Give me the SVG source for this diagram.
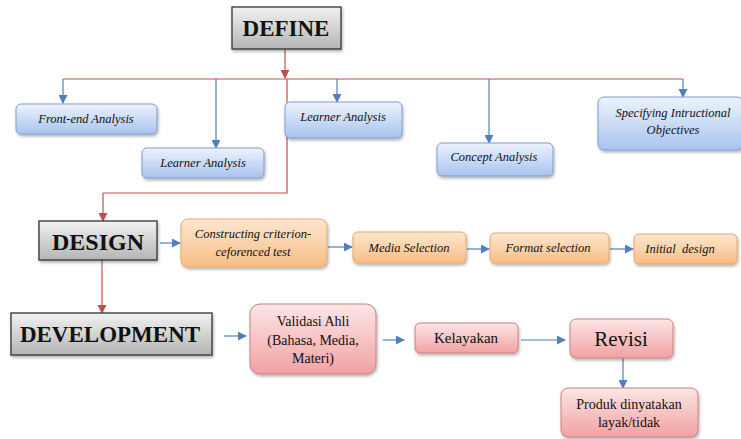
<svg xmlns="http://www.w3.org/2000/svg" width="741" height="439" viewBox="0 0 741 439">
<defs>
<linearGradient id="gBlue" x1="0" y1="0" x2="0" y2="1"><stop offset="0" stop-color="#eef3fd"/><stop offset="1" stop-color="#a8c3ee"/></linearGradient>
<linearGradient id="gOrange" x1="0" y1="0" x2="0" y2="1"><stop offset="0" stop-color="#fde7d0"/><stop offset="1" stop-color="#f8bd84"/></linearGradient>
<linearGradient id="gPink" x1="0" y1="0" x2="0" y2="1"><stop offset="0" stop-color="#fde6e6"/><stop offset="1" stop-color="#f2a1a2"/></linearGradient>
<linearGradient id="gGray" x1="0" y1="0" x2="0" y2="1"><stop offset="0" stop-color="#f2f2f2"/><stop offset="1" stop-color="#b4b4b4"/></linearGradient>
<filter id="sh" x="-10%" y="-10%" width="125%" height="140%"><feDropShadow dx="1" dy="2" stdDeviation="1.5" flood-color="#000" flood-opacity="0.3"/></filter>
<marker id="aB" viewBox="0 0 10 10" refX="9" refY="5" markerWidth="9" markerHeight="9" markerUnits="userSpaceOnUse" orient="auto"><path d="M0,0 L10,5 L0,10 z" fill="#4f7fbd"/></marker>
<marker id="aR" viewBox="0 0 10 10" refX="9" refY="5" markerWidth="9" markerHeight="9" markerUnits="userSpaceOnUse" orient="auto"><path d="M0,0 L10,5 L0,10 z" fill="#c0504d"/></marker>
</defs>
<style>
.blue{fill:url(#gBlue);stroke:#7f9bcb;stroke-width:1;filter:url(#sh)}
.orange{fill:url(#gOrange);stroke:#e3a86c;stroke-width:1;filter:url(#sh)}
.pink{fill:url(#gPink);stroke:#c98080;stroke-width:1;filter:url(#sh)}
.gray{fill:url(#gGray);stroke:#333;stroke-width:1.3;filter:url(#sh)}
.it{font-family:"Liberation Serif",serif;font-style:italic;font-size:12.5px;fill:#111;text-anchor:middle}
.rm{font-family:"Liberation Serif",serif;font-size:14px;fill:#111;text-anchor:middle}
.hd{font-family:"Liberation Serif",serif;font-weight:bold;font-size:23px;fill:#111;text-anchor:middle}
.lb{fill:none;stroke:#4f7fbd;stroke-width:1.2;marker-end:url(#aB)}
.lr{fill:none;stroke:#c0504d;stroke-width:1.2}
.lra{fill:none;stroke:#c0504d;stroke-width:1.2;marker-end:url(#aR)}
</style>
<g id="connectors">
<path class="lra" d="M285,49 V78"/>
<path class="lr" d="M63,79 H683"/>
<path class="lb" d="M63,79 V103"/>
<path class="lb" d="M216,79 V148"/>
<path class="lb" d="M337,79 V102"/>
<path class="lb" d="M489,79 V143"/>
<path class="lb" d="M683,79 V97"/>
<path class="lr" d="M287,79 V193 H103"/>
<path class="lra" d="M103,193 V221"/>
<path class="lra" d="M102,260 V313"/>
<path class="lb" d="M160,243 H180"/>
<path class="lb" d="M328,247 H352"/>
<path class="lb" d="M467,249 H489"/>
<path class="lb" d="M610,249 H633"/>
<path class="lb" d="M224,336 H246"/>
<path class="lb" d="M383,340 H404"/>
<path class="lb" d="M521,340 H565"/>
<path class="lb" d="M623,358 V388"/>
</g>
<g id="define"><rect class="gray" x="232" y="7" width="109" height="42"/><text class="hd" x="286" y="36">DEFINE</text></g>
<g id="front-end"><rect class="blue" x="16" y="104" width="141" height="30" rx="5"/><text class="it" x="86" y="123">Front-end Analysis</text></g>
<g id="learner2"><rect class="blue" x="142" y="148" width="122" height="30" rx="5"/><text class="it" x="203" y="167">Learner Analysis</text></g>
<g id="learner1"><rect class="blue" x="285" y="102" width="117" height="36" rx="5"/><text class="it" x="343" y="121">Learner Analysis</text></g>
<g id="concept"><rect class="blue" x="437" y="143" width="116" height="33" rx="5"/><text class="it" x="494" y="161">Concept Analysis</text></g>
<g id="specifying"><rect class="blue" x="598" y="97" width="145" height="53" rx="6"/><text class="it" x="673" y="117">Specifying Intructional</text><text class="it" x="673" y="134">Objectives</text></g>
<g id="design"><rect class="gray" x="39" y="221" width="118" height="39"/><text class="hd" x="98" y="250" style="font-size:24px">DESIGN</text></g>
<g id="constructing"><rect class="orange" x="181" y="219" width="146" height="48" rx="7"/><text class="it" x="253" y="238">Constructing criterion-</text><text class="it" x="253" y="256">ceforenced test</text></g>
<g id="media"><rect class="orange" x="353" y="232" width="113" height="31" rx="5"/><text class="it" x="409" y="252">Media Selection</text></g>
<g id="format"><rect class="orange" x="490" y="233" width="119" height="30" rx="5"/><text class="it" x="548" y="252">Format selection</text></g>
<g id="initial"><rect class="orange" x="634" y="234" width="103" height="30" rx="5"/><text class="it" x="680" y="253" xml:space="preserve">Initial  design</text></g>
<g id="development"><rect class="gray" x="11" y="313" width="201" height="42"/><text class="hd" x="110" y="342">DEVELOPMENT</text></g>
<g id="validasi"><rect class="pink" x="250" y="304" width="126" height="70" rx="10"/><text class="rm" x="313" y="326">Validasi Ahli</text><text class="rm" x="313" y="345">(Bahasa, Media,</text><text class="rm" x="313" y="363">Materi)</text></g>
<g id="kelayakan"><rect class="pink" x="415" y="323" width="103" height="30" rx="5"/><text class="rm" x="466" y="343" style="font-size:15px">Kelayakan</text></g>
<g id="revisi"><rect class="pink" x="570" y="319" width="103" height="39" rx="6"/><text class="rm" x="621" y="346" style="font-size:21px">Revisi</text></g>
<g id="produk"><rect class="pink" x="561" y="388" width="137" height="49" rx="7"/><text class="rm" x="629" y="409">Produk dinyatakan</text><text class="rm" x="629" y="427">layak/tidak</text></g>
</svg>
